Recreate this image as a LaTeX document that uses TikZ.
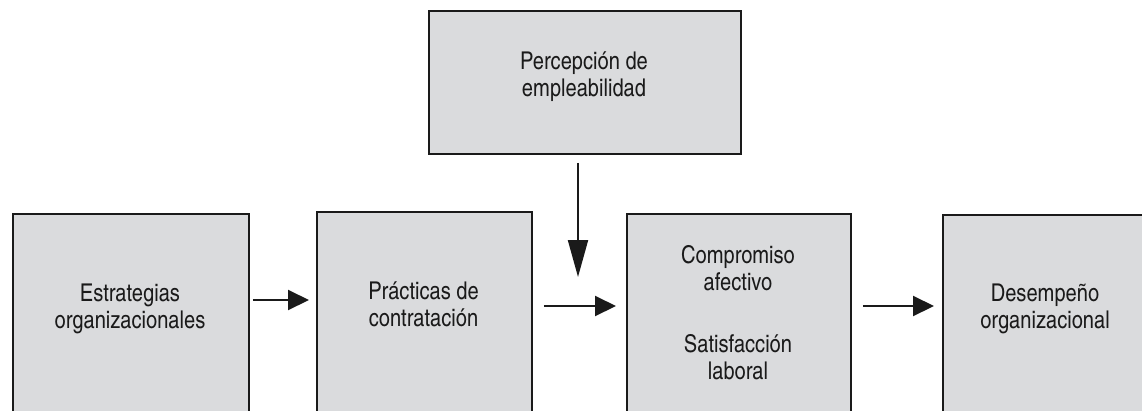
\documentclass[tikz,border=0pt]{standalone}
\usepackage{fontspec}
\setmainfont{texgyreheroscn-regular.otf}
\usetikzlibrary{arrows.meta}
\definecolor{boxfill}{RGB}{218,219,221}
\definecolor{ink}{RGB}{26,26,26}
\begin{document}
\begin{tikzpicture}[x=1pt,y=-1pt,
  box/.style={draw=ink, line width=1.8pt, fill=boxfill, inner sep=0pt, anchor=north west},
  lbl/.style={font=\fontsize{24.5}{27}\selectfont, text=ink, align=center, inner sep=0pt},
  harr/.style={draw=ink, line width=2pt, -{Triangle[length=21pt,width=20pt]}},
  varr/.style={draw=ink, line width=2pt, -{Triangle[length=37pt,width=20pt]}}]
\useasboundingbox (0,0) rectangle (1142,410);
% boxes
\node[box, minimum width=312pt, minimum height=143pt] (top) at (428,10) {};
\node[box, minimum width=236pt, minimum height=260pt] (b1) at (12,213) {};
\node[box, minimum width=215pt, minimum height=260pt] (b2) at (316,211) {};
\node[box, minimum width=224pt, minimum height=260pt] (b3) at (626,213) {};
\node[box, minimum width=206pt, minimum height=260pt] (b4) at (942,214) {};
% labels
\node[lbl] (t0) at (584,77) {Percepción de\\empleabilidad};
\node[lbl] (t1) at (130,309) {Estrategias\\organizacionales};
\node[lbl] (t2) at (423.5,304.5) {Prácticas de\\contratación};
\node[lbl] (t3) at (738,313) {Compromiso\\afectivo\\[35pt]Satisfacción\\laboral};
\node[lbl] (t4) at (1045,309) {Desempeño\\organizacional};
% connectors
\draw[harr, shorten <=3pt, shorten >=7pt] (b1.east |- 0,300) -- (b2.west |- 0,300);
\draw[harr, shorten <=11pt, shorten >=10pt] (b2.east |- 0,306) -- (b3.west |- 0,306);
\draw[harr, shorten <=11pt, shorten >=8pt] (b3.east |- 0,306) -- (b4.west |- 0,306);
\coordinate (vend) at (578,277);
\draw[varr, shorten <=8pt] (top.south -| vend) -- (vend);
\end{tikzpicture}
\end{document}
